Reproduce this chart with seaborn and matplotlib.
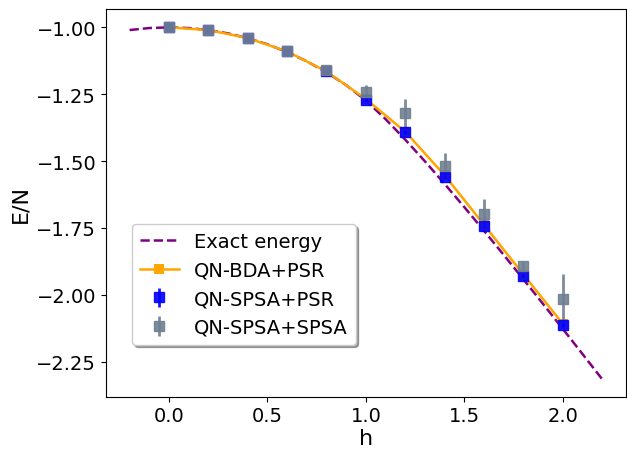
import matplotlib
matplotlib.use("Agg")
import matplotlib.pyplot as plt
import seaborn as sns

# exact ground state energy
h_exact = [-0.2, -0.1, 0.0, 0.1, 0.2, 0.3, 0.4, 0.5, 0.6, 0.7, 0.8, 0.9, 1.0,
           1.1, 1.2, 1.3, 1.4, 1.5, 1.6, 1.7, 1.8, 1.9, 2.0, 2.1, 2.2]
e_exact = [-1.0100, -1.0025, -1.0000, -1.0025, -1.0100, -1.0226, -1.0404,
           -1.0635, -1.0922, -1.1268, -1.1679, -1.2160, -1.2732, -1.3430,
           -1.4197, -1.5008, -1.5852, -1.6719, -1.7605, -1.8506, -1.9418,
           -2.0340, -2.1271, -2.2209, -2.3152]

h_pts = [0.0, 0.2, 0.4, 0.6, 0.8, 1.0, 1.2, 1.4, 1.6, 1.8, 2.0]
e_bda_psr = [-1.000, -1.010, -1.040, -1.090, -1.165, -1.268, -1.390,
             -1.553, -1.738, -1.924, -2.108]
e_spsa_psr = [-1.000, -1.010, -1.040, -1.090, -1.163, -1.270, -1.391,
              -1.558, -1.743, -1.928, -2.114]
err_spsa_psr = [0.002, 0.002, 0.002, 0.003, 0.004, 0.005, 0.006,
                0.006, 0.007, 0.007, 0.008]
e_spsa_spsa = [-1.000, -1.010, -1.040, -1.090, -1.158, -1.241, -1.322,
               -1.517, -1.696, -1.892, -2.014]
err_spsa_spsa = [0.003, 0.004, 0.004, 0.005, 0.015, 0.027, 0.055,
                 0.046, 0.055, 0.015, 0.091]

fig, ax = plt.subplots(figsize=(6.27, 4.52), dpi=100)
fig.subplots_adjust(left=0.169, right=0.998, top=0.978, bottom=0.12)

sns.lineplot(x=h_exact, y=e_exact, ax=ax, color="purple", linestyle="--",
             linewidth=1.8, label="Exact energy")
sns.lineplot(x=h_pts, y=e_bda_psr, ax=ax, color="orange", linewidth=1.8,
             marker="s", markersize=7, markeredgewidth=0, label="QN-BDA+PSR")
ax.errorbar(h_pts, e_spsa_psr, yerr=err_spsa_psr, fmt="s", color="blue",
            markersize=7, elinewidth=2, alpha=0.9, label="QN-SPSA+PSR")
ax.errorbar(h_pts, e_spsa_spsa, yerr=err_spsa_spsa, fmt="s", color="slategray",
            markersize=7, elinewidth=2, alpha=0.9, label="QN-SPSA+SPSA")

ax.set_xticks([0.0, 0.5, 1.0, 1.5, 2.0])
ax.set_yticks([-1.0, -1.25, -1.5, -1.75, -2.0, -2.25])
ax.tick_params(labelsize=14)
ax.set_xlabel("h", fontsize=16, labelpad=2)
ax.set_ylabel("E/N", fontsize=16)

ax.legend(loc="center left", bbox_to_anchor=(0.05, 0.29), borderaxespad=0,
          fontsize=14, shadow=True)

fig.savefig("out.png", dpi=100)
